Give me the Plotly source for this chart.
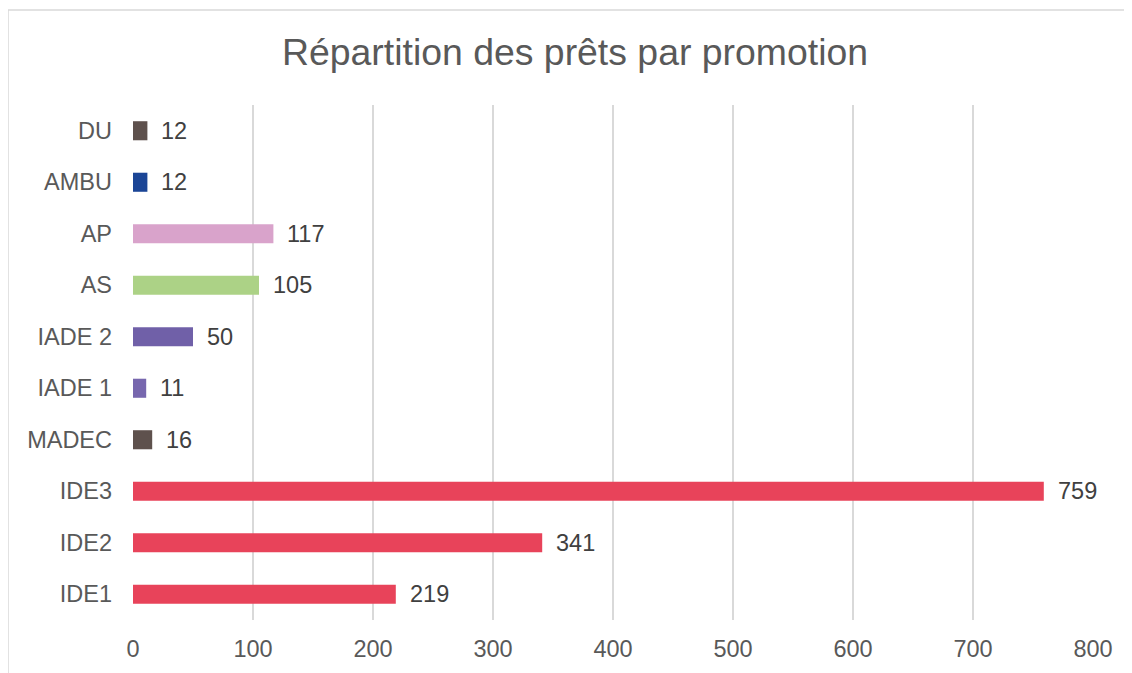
import plotly.graph_objects as go

categories = ["IDE1", "IDE2", "IDE3", "MADEC", "IADE 1", "IADE 2", "AS", "AP", "AMBU", "DU"]
values = [219, 341, 759, 16, 11, 50, 105, 117, 12, 12]
colors = ["#E8435A", "#E8435A", "#E8435A", "#5E514D", "#7767AE", "#7060A8",
          "#ACD286", "#D9A3CB", "#1B4596", "#5E514D"]
x_ticks = [0, 100, 200, 300, 400, 500, 600, 700, 800]
title_text = "Répartition des prêts par promotion"

FONT = "Liberation Sans, Arial, sans-serif"

fig = go.Figure()
fig.add_trace(go.Bar(
    x=values, y=categories, orientation="h",
    marker=dict(color=colors, line=dict(width=0)),
    hoverinfo="x+y",
))

for v, c in zip(values, categories):
    fig.add_annotation(x=v, y=c, text=str(v), showarrow=False,
                       xanchor="left", yanchor="middle", xshift=12,
                       font=dict(family=FONT, size=23.5, color="#404040"))

# chart border
fig.add_shape(type="rect", xref="paper", yref="paper",
              x0=(0 - 125) / 960, x1=2.0, y0=-1.0, y1=(612 - 2) / 515,
              line=dict(color="#D9D9D9", width=1.5), fillcolor="rgba(0,0,0,0)",
              layer="below")

fig.update_layout(
    width=1132, height=673,
    margin=dict(l=125, r=47, t=97, b=61),
    paper_bgcolor="white", plot_bgcolor="white",
    title=dict(text=title_text, x=567 / 1132, xanchor="center",
               y=1 - 44 / 673, yanchor="middle",
               font=dict(family=FONT, size=37.4, color="#595959")),
    bargap=0.63,
    showlegend=False,
    xaxis=dict(range=[0, 800], tickvals=x_ticks, showgrid=True,
               gridcolor="#D9D9D9", gridwidth=1.5, zeroline=False,
               showline=False, ticks="", ticklabelstandoff=12,
               tickfont=dict(family=FONT, size=23.5, color="#595959"),
               fixedrange=True),
    yaxis=dict(categoryorder="array", categoryarray=categories,
               showgrid=False, zeroline=False, showline=False, ticks="",
               ticklabelstandoff=20,
               tickfont=dict(family=FONT, size=23.5, color="#595959"),
               fixedrange=True),
)

fig.write_html("out.html")
